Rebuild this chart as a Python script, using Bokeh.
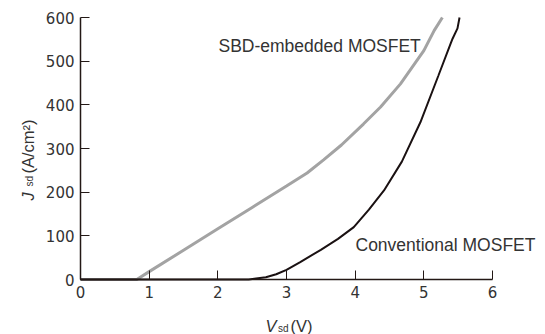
import math
from bokeh.plotting import figure
from bokeh.models import Range1d, Label, FixedTicker, LinearAxis
from bokeh.embed import file_html
from bokeh.resources import INLINE

# Data
sbd_v = [0, 0.82, 1.0, 1.5, 2.0, 2.5, 3.0, 3.3, 3.54, 3.8, 4.12, 4.37, 4.66, 5.0, 5.15, 5.27]
sbd_j = [0, 0, 18, 67, 116, 165, 214, 244, 274, 308, 356, 395, 448, 524, 570, 600]
conv_v = [0, 2.45, 2.7, 2.85, 3.0, 3.2, 3.5, 3.75, 3.98, 4.2, 4.42, 4.68, 4.95, 5.21, 5.39, 5.42, 5.49, 5.52]
conv_j = [0, 0, 5, 12, 22, 40, 68, 93, 120, 160, 204, 270, 360, 466, 540, 552, 575, 600]
x_ticks = [0, 1, 2, 3, 4, 5, 6]
y_ticks = [0, 100, 200, 300, 400, 500, 600]

W, H = 545, 334
# frame placement in pixels (axes drawn inside a full-canvas frame)
X0, X1 = 80, 492       # px of x=0 and x=6
YB, YT = 279, 17       # px (from top) of y=0 and y=600
sx = (X1 - X0) / (x_ticks[-1] - x_ticks[0])
sy = (YB - YT) / (y_ticks[-1] - y_ticks[0])

def dx(px):
    return (px - X0) / sx

def dy(py):
    return (YB - py) / sy

FONT = "Liberation Sans"
TXT = "#333333"
AX = "#231815"

p = figure(width=W, height=H, output_backend="svg", toolbar_location=None,
           x_range=Range1d(dx(0), dx(W)), y_range=Range1d(dy(H), dy(0)),
           x_axis_location=None, y_axis_location=None,
           min_border_left=0, min_border_right=0, min_border_top=0, min_border_bottom=0)
p.outline_line_color = None
p.grid.visible = False
p.background_fill_color = "white"
p.border_fill_color = "white"

p.line(sbd_v, sbd_j, line_color="#a3a3a3", line_width=3)
p.line(conv_v, conv_j, line_color="#1a1112", line_width=2)

xa = LinearAxis(fixed_location=0, bounds=(x_ticks[0], x_ticks[-1]), ticker=FixedTicker(ticks=x_ticks))
ya = LinearAxis(fixed_location=0, bounds=(y_ticks[0], y_ticks[-1]), ticker=FixedTicker(ticks=y_ticks))
for ax in (xa, ya):
    ax.major_tick_in = 9
    ax.major_tick_out = 0
    ax.minor_tick_line_color = None
    ax.axis_line_color = AX
    ax.axis_line_width = 1.5
    ax.major_tick_line_color = AX
    ax.major_tick_line_width = 1
    ax.major_label_text_font = "DejaVu Sans"
    ax.major_label_text_font_size = "15px"
    ax.major_label_text_color = TXT
    ax.major_label_standoff = 6
p.add_layout(xa, "below")
p.add_layout(ya, "left")

def lab(x, y, text, size, style="normal", align="left", baseline="alphabetic", angle=0):
    p.add_layout(Label(x=x, y=y, text=text, text_font=FONT, text_font_size=size,
                       text_font_style=style, text_color=TXT, text_align=align,
                       text_baseline=baseline, angle=angle))

# curve annotations
lab(dx(218), dy(45), "SBD-embedded MOSFET", "17.5px")
lab(dx(355), dy(244), "Conventional MOSFET", "17.5px")

# x axis label: V_sd(V)
lab(dx(265), dy(325), "V", "16.5px", style="italic")
lab(dx(277.5), dy(327.5), "sd", "10px")
lab(dx(290), dy(325), "(V)", "16.5px")

# y axis label: J_sd(A/cm2)
a = math.pi / 2
lab(dx(27), dy(200), "J", "16.5px", style="italic", angle=a)
lab(dx(29), dy(186), "sd", "10px", angle=a)
lab(dx(27), dy(173), "(A/cm²)", "16.5px", angle=a)

open("out.html", "w").write(file_html(p, INLINE))
